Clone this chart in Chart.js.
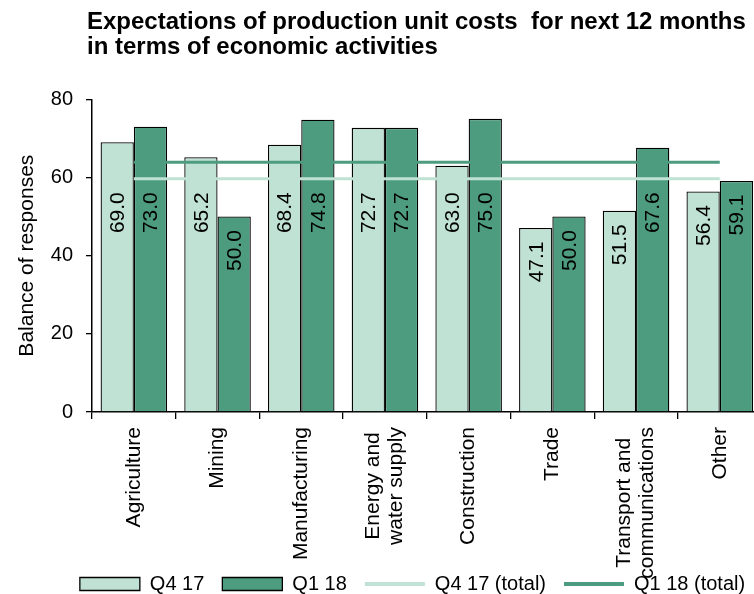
<!DOCTYPE html>
<html><head><meta charset="utf-8">
<script src="https://cdn.jsdelivr.net/npm/chart.js@4.4.1/dist/chart.umd.min.js"></script>
<style>
html,body{margin:0;padding:0;background:#fff;overflow:hidden;width:754px;height:594px;}
#wrap{width:754px;height:594px;overflow:hidden;position:relative;background:#fff;}
canvas{display:block;}
</style></head><body>
<div id="wrap"><canvas id="c" width="825" height="604" style="width:825px;height:604px"></canvas></div>
<script>
const titleLines = ['Expectations of production unit costs  for next 12 months', 'in terms of economic activities'];
const categories = ['Agriculture', 'Mining', 'Manufacturing', ['Energy and', 'water supply'], 'Construction', 'Trade', ['Transport and', 'communications'], 'Other'];
const q4_17 = [69.0, 65.2, 68.4, 72.7, 63.0, 47.1, 51.5, 56.4];
const q1_18 = [73.0, 50.0, 74.8, 72.7, 75.0, 50.0, 67.6, 59.1];
const q4_17_total = [59.7, 59.7, 59.7, 59.7, 59.7, 59.7, 59.7, 59.7];
const q1_18_total = [63.9, 63.9, 63.9, 63.9, 63.9, 63.9, 63.9, 63.9];
const yTicks = [0, 20, 40, 60, 80];
const seriesNames = ['Q4 17', 'Q1 18', 'Q4 17 (total)', 'Q1 18 (total)'];
const yTitle = 'Balance of responses';

const FONT = '"Liberation Sans", Arial, Helvetica, sans-serif';
const LIGHT = '#C0E2D5';
const DARK = '#4E9C80';

Chart.defaults.font.family = FONT;
Chart.defaults.color = '#000';

const titlePlugin = {
  id: 'titleText',
  afterDraw(chart) {
    const ctx = chart.ctx;
    ctx.save();
    ctx.font = 'bold 24px ' + FONT;
    ctx.fillStyle = '#000';
    ctx.textAlign = 'left';
    ctx.textBaseline = 'alphabetic';
    titleLines.forEach((t, i) => ctx.fillText(t, 87, 28.5 + i * 25));
    ctx.restore();
  }
};

const valueLabels = {
  id: 'valueLabels',
  afterDatasetsDraw(chart) {
    const ctx = chart.ctx;
    const floor = chart.scales.y.getPixelForValue(51);
    ctx.save();
    ctx.font = '21px ' + FONT;
    ctx.fillStyle = '#000';
    ctx.textAlign = 'center';
    ctx.textBaseline = 'middle';
    [0, 1].forEach(di => {
      const meta = chart.getDatasetMeta(di);
      meta.data.forEach((bar, i) => {
        const v = chart.data.datasets[di].data[i];
        const cy = Math.max(bar.y + 34, floor);
        ctx.save();
        ctx.translate(bar.x, cy);
        ctx.rotate(-Math.PI / 2);
        ctx.fillText(v.toFixed(1), 0, 1);
        ctx.restore();
      });
    });
    ctx.restore();
  }
};

// let the rotated category labels run down into the legend band, as in the original
const labelBand = {
  id: 'labelBand',
  afterLayout(chart) {
    chart.scales.x.bottom = chart.height;
  }
};

const centerMultiline = {
  id: 'centerMultiline',
  beforeDraw(chart) {
    const sc = chart.scales.x;
    if (typeof sc.getLabelItems !== 'function') return;
    const items = sc.getLabelItems();
    if (items._adj) return;
    const ctx = chart.ctx;
    items.forEach(it => {
      if (Array.isArray(it.label) && it.label.length > 1) {
        ctx.save();
        ctx.font = it.font.string;
        const w = Math.max(...it.label.map(s => ctx.measureText(s).width));
        ctx.restore();
        const lh = it.font.lineHeight;
        const tr = it.options.translation;
        it.options.translation = [tr[0] - (it.label.length - 1) * lh / 2, tr[1] + w / 2];
        it.options.textAlign = 'center';
      }
    });
    items._adj = true;
  }
};

new Chart(document.getElementById('c'), {
  data: {
    labels: categories,
    datasets: [
      { type: 'bar', label: seriesNames[0], data: q4_17, backgroundColor: LIGHT, borderColor: '#000', borderWidth: 1.3, order: 1,
        categoryPercentage: 0.795, barPercentage: 1.0 },
      { type: 'bar', label: seriesNames[1], data: q1_18, backgroundColor: DARK, borderColor: '#000', borderWidth: 1.3, order: 1,
        categoryPercentage: 0.795, barPercentage: 1.0 },
      { type: 'line', label: seriesNames[2], data: q4_17_total, borderColor: LIGHT, backgroundColor: LIGHT, borderWidth: 3,
        pointRadius: 0, pointHoverRadius: 0, tension: 0, fill: false, order: 0 },
      { type: 'line', label: seriesNames[3], data: q1_18_total, borderColor: DARK, backgroundColor: DARK, borderWidth: 3,
        pointRadius: 0, pointHoverRadius: 0, tension: 0, fill: false, order: 0 }
    ]
  },
  options: {
    responsive: false,
    animation: false,
    devicePixelRatio: 1,
    layout: { padding: { top: 99.3, left: 0, right: 0, bottom: 0 } },
    plugins: {
      title: { display: false },
      tooltip: { enabled: false },
      legend: {
        display: true,
        position: 'bottom',
        align: 'center',
        labels: {
          usePointStyle: true,
          pointStyleWidth: 60,
          boxWidth: 60,
          boxHeight: 13,
          padding: 18,
          color: '#000',
          font: { size: 20 },
          generateLabels(chart) {
            return chart.data.datasets.map((ds, i) => ({
              text: ds.label,
              fillStyle: ds.type === 'line' ? ds.borderColor : ds.backgroundColor,
              strokeStyle: ds.type === 'line' ? ds.borderColor : '#000',
              lineWidth: ds.type === 'line' ? 4 : 1.3,
              pointStyle: ds.type === 'line' ? 'line' : 'rect',
              hidden: false,
              datasetIndex: i,
              fontColor: '#000'
            }));
          }
        }
      }
    },
    scales: {
      x: {
        type: 'category',
        offset: true,
        grid: { offset: true, drawOnChartArea: false, drawTicks: true, tickLength: 7, color: '#000', lineWidth: 1.3 },
        border: { display: true, color: '#000', width: 1.5 },
        ticks: { minRotation: 90, maxRotation: 90, autoSkip: false, padding: 8, color: '#000',
                 font: { size: 21, lineHeight: 1.1 } },
        afterFit(a) { a.height = 144; }
      },
      y: {
        type: 'linear',
        position: 'left',
        min: yTicks[0],
        max: yTicks[yTicks.length - 1],
        afterBuildTicks(a) { a.ticks = yTicks.map(v => ({ value: v })); },
        grid: { drawOnChartArea: false, drawTicks: true, tickLength: 6, color: '#000', lineWidth: 1.3 },
        border: { display: true, color: '#000', width: 1.5 },
        ticks: { padding: 13, color: '#000', font: { size: 20 } },
        title: { display: true, text: yTitle, color: '#000', font: { size: 21 }, padding: { top: 15, bottom: 0 } },
        afterFit(a) { a.width = 92; }
      },
      yRight: {
        type: 'linear',
        position: 'right',
        display: true,
        grid: { display: false, drawTicks: false },
        border: { display: false },
        ticks: { display: false },
        afterFit(a) { a.width = 63.4; }
      }
    }
  },
  plugins: [titlePlugin, valueLabels, labelBand, centerMultiline]
});
</script>
</body></html>
